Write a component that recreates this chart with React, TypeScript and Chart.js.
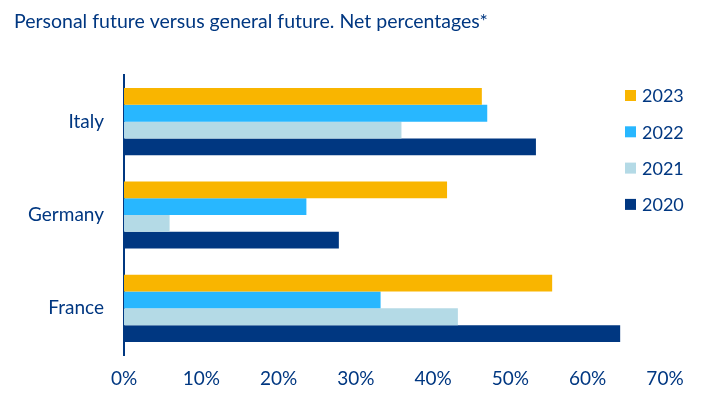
import React, { useEffect, useRef } from "react";
import { Chart, registerables } from "chart.js";

Chart.register(...registerables);

const categories = ["Italy", "Germany", "France"];
const seriesLabels = ["2023", "2022", "2021", "2020"];
const values2023 = [46.3, 41.8, 55.4];
const values2022 = [47.0, 23.6, 33.2];
const values2021 = [35.9, 5.9, 43.2];
const values2020 = [53.3, 27.8, 64.2];
const seriesColors = ["#F9B500", "#28B7FF", "#B4DAE6", "#003781"];
const titleText = "Personal future versus general future. Net percentages*";
const xMin = 0;
const xMax = 70;
const xStep = 10;

const NAVY = "#003781";
const FONT = "Lato, 'Open Sans', sans-serif";

const legendPlugin = {
  id: "customLegend",
  afterDraw(chart: any) {
    const ctx = chart.ctx;
    ctx.save();
    ctx.font = `18px ${FONT}`;
    ctx.textBaseline = "middle";
    ctx.textAlign = "left";
    chart.data.datasets.forEach((ds: any, i: number) => {
      const cy = 95.5 + i * 36.3;
      ctx.fillStyle = ds.backgroundColor;
      ctx.fillRect(625, cy - 5.5, 11, 11);
      ctx.fillStyle = NAVY;
      ctx.fillText(ds.label, 642, cy + 1);
    });
    ctx.restore();
  },
};

export default function App() {
  const ref = useRef<HTMLCanvasElement | null>(null);
  useEffect(() => {
    document.body.style.margin = "0";
    const allValues = [values2023, values2022, values2021, values2020];
    const chart = new Chart(ref.current as HTMLCanvasElement, {
      type: "bar",
      data: {
        labels: categories,
        datasets: seriesLabels.map((l, i) => ({
          label: l,
          data: allValues[i],
          backgroundColor: seriesColors[i],
          borderWidth: 0,
          categoryPercentage: 0.72,
          barPercentage: 1,
        })),
      },
      options: {
        indexAxis: "y",
        animation: false,
        responsive: false,
        maintainAspectRatio: false,
        layout: { padding: { left: 14, right: 47, top: 0, bottom: 0 } },
        plugins: {
          legend: { display: false },
          tooltip: { enabled: false },
          title: {
            display: true,
            text: titleText,
            align: "start",
            color: NAVY,
            font: { family: FONT, size: 19.5, weight: "normal" },
            padding: { top: 10, bottom: 41.6 },
          },
        },
        scales: {
          x: {
            min: xMin,
            max: xMax,
            grid: { display: false, drawTicks: false },
            border: { display: false },
            ticks: {
              stepSize: xStep,
              color: NAVY,
              font: { family: FONT, size: 19 },
              padding: 12,
              callback: (v: any) => `${v}%`,
            },
            afterFit: (s: any) => {
              s.height = 39;
            },
          },
          y: {
            z: 1,
            grid: { display: false, drawTicks: false },
            border: { display: true, color: NAVY, width: 2 },
            ticks: {
              color: NAVY,
              font: { family: FONT, size: 19 },
              padding: 20,
            },
            afterFit: (s: any) => {
              s.width = 110;
            },
          },
        },
      },
      plugins: [legendPlugin],
    } as any);
    return () => chart.destroy();
  }, []);
  return (
    <div style={{ width: 712, height: 394 }}>
      <canvas ref={ref} width={712} height={394} style={{ display: "block" }} />
    </div>
  );
}
